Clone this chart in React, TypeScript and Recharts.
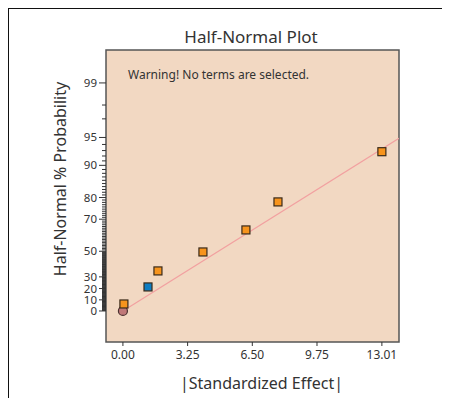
import React from "react";
import {
  ScatterChart,
  Scatter,
  XAxis,
  YAxis,
  ReferenceArea,
} from "recharts";

// effects (|standardized effect|) and their half-normal % probability
const termEffects = [0.05, 1.26, 1.76, 4.02, 6.18, 7.79, 13.01];
const termProbs = [6.3, 21.4, 34.9, 49.5, 64, 78.2, 92.8];
const termColors = ["#f7941d", "#0f7dc2", "#f7941d", "#f7941d", "#f7941d", "#f7941d", "#f7941d"];

const errorEffects = [0];
const errorProbs = [0];

const fitEffects = [0, 13.87];
const fitProbs = [0, 94.9];

const xTicks = [0, 3.25, 6.5, 9.75, 13.01];
const yMajorTicks = [0, 10, 20, 30, 50, 70, 80, 90, 95, 99];
const xDomain = [-0.85, 13.87];
const yDomainProbs = [-27.4, 99.68];

// inverse normal cdf (Acklam)
const invNorm = (p: number): number => {
  const a = [-39.69683028665376, 220.9460984245205, -275.9285104469687, 138.357751867269, -30.66479806614716, 2.506628277459239];
  const b = [-54.47609879822406, 161.5858368580409, -155.6989798598866, 66.80131188771972, -13.28068155288572];
  const c = [-0.007784894002430293, -0.3223964580411365, -2.400758277161838, -2.549732539343734, 4.374664141464968, 2.938163982698783];
  const d = [0.007784695709041462, 0.3224671290700398, 2.445134137142996, 3.754408661907416];
  const pl = 0.02425;
  if (p < pl) {
    const q = Math.sqrt(-2 * Math.log(p));
    return (((((c[0] * q + c[1]) * q + c[2]) * q + c[3]) * q + c[4]) * q + c[5]) / ((((d[0] * q + d[1]) * q + d[2]) * q + d[3]) * q + 1);
  }
  if (p > 1 - pl) {
    const q = Math.sqrt(-2 * Math.log(1 - p));
    return -(((((c[0] * q + c[1]) * q + c[2]) * q + c[3]) * q + c[4]) * q + c[5]) / ((((d[0] * q + d[1]) * q + d[2]) * q + d[3]) * q + 1);
  }
  const q = p - 0.5;
  const r = q * q;
  return ((((((a[0] * r + a[1]) * r + a[2]) * r + a[3]) * r + a[4]) * r + a[5]) * q) / (((((b[0] * r + b[1]) * r + b[2]) * r + b[3]) * r + b[4]) * r + 1);
};

// half-normal probability -> z (negative % mirrors below zero)
const hz = (pct: number) => (pct >= 0 ? 1 : -1) * invNorm(0.5 + Math.abs(pct) / 200);

const minorTicks: number[] = [];
for (let p = 0.5; p < 95; p += p < 50 ? 0.5 : 1) if (!yMajorTicks.includes(p)) minorTicks.push(p);
minorTicks.push(97, 98);

const yTicks = [...yMajorTicks, ...minorTicks].map(hz);
const majorZ = yMajorTicks.map(hz);
const yDomain = yDomainProbs.map(hz);

const termData = termEffects.map((x, i) => ({ x, y: hz(termProbs[i]), color: termColors[i] }));
const errorData = errorEffects.map((x, i) => ({ x, y: hz(errorProbs[i]) }));
const fitData = fitEffects.map((x, i) => ({ x, y: hz(fitProbs[i]) }));

const font = "'Noto Sans', sans-serif";
const ink = "#333";

const YTick = (props: any) => {
  const { x, y, payload } = props;
  const idx = majorZ.findIndex((z) => Math.abs(z - payload.value) < 1e-9);
  if (idx < 0) {
    return <line x1={x - 4} x2={x} y1={y} y2={y} stroke={ink} strokeWidth={1} />;
  }
  return (
    <g>
      <line x1={x - 7} x2={x} y1={y} y2={y} stroke={ink} strokeWidth={1} />
      <text x={x - 9} y={y} dy={4} textAnchor="end" fontSize={11.5} fill={ink} fontFamily={font}>
        {yMajorTicks[idx]}
      </text>
    </g>
  );
};

const Square = (props: any) => {
  const { cx, cy, payload } = props;
  return <rect x={cx - 4} y={cy - 4} width={8} height={8} fill={payload.color} stroke="#3a2a1a" strokeWidth={1.2} />;
};

const Dot = (props: any) => {
  const { cx, cy } = props;
  return <circle cx={cx} cy={cy} r={4.5} fill="#c07878" stroke="#4a3030" strokeWidth={1.2} />;
};

const Nothing = () => <g />;

const App = () => {
  return (
    <div style={{ position: "relative", margin: -8, width: 450, height: 406, background: "#eef6f2", fontFamily: font, overflow: "hidden" }}>
      <div style={{ position: "absolute", left: 7, top: 7, right: 0, bottom: 0, background: "#fff", borderTop: "2px solid #111", borderLeft: "2px solid #111" }} />
      <div style={{ position: "absolute", left: 0, top: 0 }}>
        <ScatterChart width={450} height={406} margin={{ top: 50, right: 51, bottom: 0, left: 0 }}>
          <XAxis
            type="number"
            dataKey="x"
            domain={xDomain}
            ticks={xTicks}
            interval={0}
            allowDataOverflow
            axisLine={false}
            tickSize={4}
            tickMargin={4}
            height={64}
            tick={{ fontSize: 12, fill: ink, fontFamily: font }}
            tickLine={{ stroke: ink }}
            tickFormatter={(v: number) => v.toFixed(2)}
          />
          <YAxis
            type="number"
            dataKey="y"
            domain={yDomain}
            ticks={yTicks}
            interval={0}
            allowDataOverflow
            axisLine={false}
            tickLine={false}
            tickSize={0}
            tickMargin={0}
            width={106}
            tick={<YTick />}
          />
          <ReferenceArea x1={xDomain[0]} x2={xDomain[1]} y1={yDomain[0]} y2={yDomain[1]} fill="#f2d8c2" fillOpacity={1} stroke="#555" strokeWidth={1.5} />
          <Scatter data={fitData} line={{ stroke: "#f2a0a0", strokeWidth: 1.2 }} shape={<Nothing />} isAnimationActive={false} />
          <Scatter data={errorData} shape={<Dot />} isAnimationActive={false} />
          <Scatter data={termData} shape={<Square />} isAnimationActive={false} />
        </ScatterChart>
      </div>
      <div style={{ position: "absolute", left: 0, width: 502, top: 25, textAlign: "center", fontSize: 17, color: ink }}>
        Half-Normal Plot
      </div>
      <div style={{ position: "absolute", left: 128, top: 66, fontSize: 12, color: ink }}>
        Warning! No terms are selected.
      </div>
      <div style={{ position: "absolute", left: 0, width: 523, top: 372, textAlign: "center", fontSize: 16, color: ink }}>
        |Standardized Effect|
      </div>
      <div
        style={{
          position: "absolute",
          left: 60,
          top: 179,
          transform: "translate(-50%, -50%) rotate(-90deg)",
          whiteSpace: "nowrap",
          fontSize: 16,
          color: ink,
        }}
      >
        Half-Normal % Probability
      </div>
    </div>
  );
};

export default App;
